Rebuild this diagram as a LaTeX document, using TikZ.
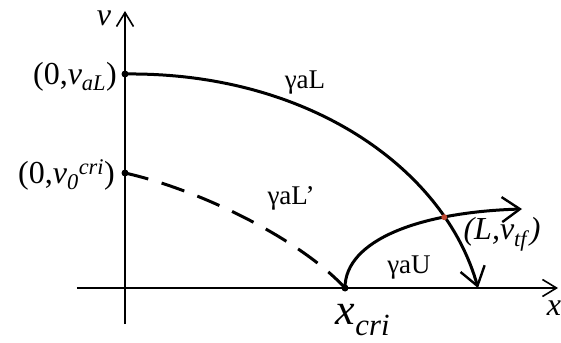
\documentclass[tikz,border=0pt]{standalone}
\usepackage{fontspec}
\setmainfont{Liberation Serif}
\newfontfamily\tnr{Liberation Serif}
\usetikzlibrary{positioning,arrows.meta,intersections}
\definecolor{ptred}{RGB}{190,72,50}
\tikzset{
  axis/.style={-{Straight Barb[length=14pt,width=17pt,line width=1.6pt]},line width=1.4pt},
  curve/.style={line width=3pt},
  arcurve/.style={curve,-{Straight Barb[length=18pt,width=25pt,line width=2.4pt]}},
  dcurve/.style={curve,dash pattern=on 24pt off 14pt},
  pt/.style={circle,fill=black,inner sep=0pt,minimum size=7pt},
  rpt/.style={circle,fill=ptred,inner sep=0pt,minimum size=6pt},
  big/.style={font=\tnr\fontsize{32}{36}\selectfont,inner sep=0pt},
  gam/.style={font=\tnr\fontsize{27}{30}\selectfont,inner sep=0pt},
}

\begin{document}
\begin{tikzpicture}[x=1pt,y=1pt]
  \useasboundingbox (-125,-54) rectangle (436,288);
  % axes
  \coordinate (xs) at (-48,0);
  \coordinate (xe) at (433,0);
  \coordinate (ys) at (0,-36);
  \coordinate (ye) at (0,277);
  \draw[axis] (xs)--(xe);
  \draw[axis] (ys)--(ye);
  \node[big,anchor=center] (xlab) at (429,-20) {\textit{x}};
  \node[big,anchor=center] (vlab) at (-21,270) {\textit{v}};
  % points
  \node[pt] (vaL) at (0,214) {};
  \node[pt] (vcri) at (0,115) {};
  \node[pt] (xcri) at (220,0) {};
  \coordinate (xL) at (353,0);
  \coordinate (uend) at (397,79);
  \node[big,anchor=east] (lvaL) at (-8,211) {(0,\textit{v}\textsubscript{\textit{aL}})};
  \node[big,anchor=east] (lvcri) at (-10,113) {(0,\textit{v}\textsubscript{\textit{0}}\textsuperscript{\textit{cri}})};
  \node[font=\tnr\fontsize{44}{50}\selectfont,inner sep=0pt] (lxcri) at (238,-32) {\textit{x}\textsubscript{\textit{cri}}};
  % curves
  \draw[arcurve,name path=gL] (vaL.center) .. controls (185,216) and (320,118) .. (xL);
  \draw[dcurve] (vcri.center) .. controls (76,98) and (176,48) .. (xcri.center);
  \draw[arcurve,name path=gU] (xcri.center) .. controls (220,48) and (295,76) .. (uend);
  \path[name intersections={of=gL and gU,by=cut}];
  \node[rpt] (tf) at (cut) {};
  \node[gam] (lgL) at (180,205) {γaL};
  \node[gam] (lgL2) at (166,90) {γaL’};
  \node[gam] (lgU) at (284,20) {γaU};
  \node[big] (ltf) at (377,54) {\textit{(L,v}\textsubscript{\textit{tf}}\textit{)}};
\end{tikzpicture}
\end{document}
